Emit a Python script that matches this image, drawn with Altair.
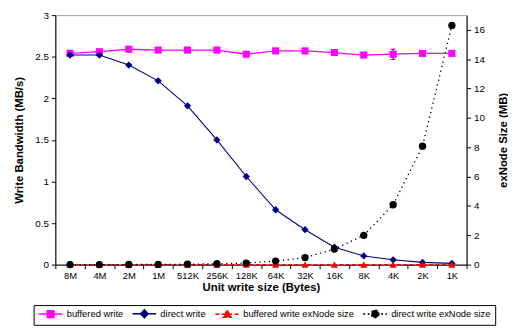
import altair as alt
import pandas as pd

categories = ["8M", "4M", "2M", "1M", "512K", "256K", "128K", "64K", "32K", "16K", "8K", "4K", "2K", "1K"]
buffered_write = [2.54, 2.56, 2.59, 2.58, 2.58, 2.58, 2.53, 2.57, 2.57, 2.55, 2.52, 2.53, 2.54, 2.54]
buffered_err = [0, 0, 0, 0, 0, 0, 0, 0.015, 0, 0.02, 0.03, 0.062, 0, 0]
direct_write = [2.52, 2.52, 2.40, 2.21, 1.91, 1.50, 1.06, 0.66, 0.42, 0.21, 0.105, 0.058, 0.027, 0.015]
buffered_exnode = [0.002, 0.002, 0.002, 0.002, 0.002, 0.002, 0.002, 0.002, 0.002, 0.002, 0.002, 0.002, 0.002, 0.002]
direct_exnode = [0.002, 0.004, 0.008, 0.015, 0.03, 0.06, 0.11, 0.24, 0.48, 1.06, 2.0, 4.08, 8.07, 16.3]

series_names = ["buffered write", "direct write", "buffered write exNode size", "direct write exNode size"]
series_colors = ["#FF00FF", "#000080", "#FF0000", "#000000"]

FONT = "Liberation Sans"

df = pd.DataFrame({
    "cat": categories,
    "bw": buffered_write,
    "err": buffered_err,
    "dw": direct_write,
    "bex": buffered_exnode,
    "dex": direct_exnode,
})
df["lo"] = df["bw"] - df["err"]
df["hi"] = df["bw"] + df["err"]

X = alt.X(
    "cat:N", sort=categories,
    scale=alt.Scale(type="band", paddingInner=0, paddingOuter=0),
    axis=alt.Axis(title="Unit write size (Bytes)", labelAngle=0, tickBand="extent",
                  tickSize=4, labelPadding=2, titlePadding=2, labelFontSize=9.5,
                  titleFontSize=11.5, titleFontWeight="bold"),
)

left_axis = alt.Axis(title="Write Bandwidth (MB/s)", values=[0, 0.5, 1, 1.5, 2, 2.5, 3], format="~g",
                     tickSize=4, labelPadding=3, titlePadding=10, labelFontSize=10,
                     titleFontSize=11.5, titleFontWeight="bold")
right_axis = alt.Axis(title="exNode Size (MB)", orient="right", values=[0, 2, 4, 6, 8, 10, 12, 14, 16],
                      format="~g", tickSize=4, labelPadding=3, titlePadding=24, labelFontSize=10,
                      titleFontSize=11.5, titleFontWeight="bold", titleAngle=270, titleBaseline="bottom")

lscale = alt.Scale(domain=[0, 3])
rscale = alt.Scale(domain=[0, 17])


def ly(field):
    return alt.Y(field + ":Q", scale=lscale, axis=left_axis, title="Write Bandwidth (MB/s)")


def ry(field):
    return alt.Y(field + ":Q", scale=rscale, axis=right_axis, title="exNode Size (MB)")


base = alt.Chart(df)

b_line = base.mark_line(color=series_colors[0], strokeWidth=1.3).encode(x=X, y=ly("bw"))
b_err = base.transform_filter("datum.err > 0").mark_rule(color="black", strokeWidth=1).encode(
    x=X, y=ly("lo"), y2="hi:Q")
b_cap_lo = base.transform_filter("datum.err > 0").mark_tick(color="black", size=5, thickness=1,
                                                            orient="horizontal").encode(x=X, y=ly("lo"))
b_cap_hi = base.transform_filter("datum.err > 0").mark_tick(color="black", size=5, thickness=1,
                                                            orient="horizontal").encode(x=X, y=ly("hi"))
b_pts = base.mark_point(shape="square", filled=True, size=52, color=series_colors[0], opacity=1).encode(
    x=X, y=ly("bw"))
d_line = base.mark_line(color=series_colors[1], strokeWidth=1.1).encode(x=X, y=ly("dw"))
d_pts = base.mark_point(shape="diamond", filled=True, size=55, color=series_colors[1], opacity=1).encode(
    x=X, y=ly("dw"))

# legend-only layer (no marks drawn; legend entries come from explicit scale domains)
path_line = "M-1,0H5.86"
legend_shapes = [
    path_line + "M1.43,-1H3.43V1H1.43Z",
    path_line + "M2.43,-1.15L3.5,0L2.43,1.15L1.36,0Z",
    path_line + "M2.43,-1.2L3.6,0.9H1.26Z",
    path_line + "M3.53,0A1.1,1.1,0,1,1,1.33,0A1.1,1.1,0,1,1,3.53,0Z",
]
legend_dash = [[1, 0], [1, 0], [4, 2.5], [2, 2.5]]
leg_df = pd.DataFrame({"series": series_names})
leg = alt.Chart(leg_df).transform_filter("false").mark_point(filled=True, opacity=1, strokeWidth=1.5).encode(
    fill=alt.Fill("series:N", scale=alt.Scale(domain=series_names, range=series_colors), title=None),
    stroke=alt.Stroke("series:N", scale=alt.Scale(domain=series_names, range=series_colors), title=None),
    shape=alt.Shape("series:N", scale=alt.Scale(domain=series_names, range=legend_shapes), title=None),
    strokeDash=alt.StrokeDash("series:N", scale=alt.Scale(domain=series_names, range=legend_dash), title=None),
)

left = alt.layer(b_line, b_err, b_cap_lo, b_cap_hi, b_pts, d_line, d_pts, leg)

be_line = base.mark_line(color=series_colors[2], strokeWidth=1.5, strokeDash=[4, 2.5]).encode(x=X, y=ry("bex"))
be_pts = base.mark_point(shape="triangle-up", filled=True, size=55, color=series_colors[2], opacity=1).encode(
    x=X, y=ry("bex"))
de_line = base.mark_line(color=series_colors[3], strokeWidth=1.3, strokeDash=[1.3, 3.5]).encode(x=X, y=ry("dex"))
de_pts = base.mark_point(shape="circle", filled=True, size=55, color=series_colors[3], opacity=1).encode(
    x=X, y=ry("dex"))

right = alt.layer(be_line, be_pts, de_line, de_pts)

chart = alt.layer(left, right).resolve_scale(y="independent").properties(
    width=417, height=253,
    autosize=alt.AutoSizeParams(type="none"),
    padding={"left": 48, "top": 5, "right": 42, "bottom": 62},
    background="white",
).configure_view(
    stroke="#a0a0a0", strokeWidth=1
).configure_axis(
    labelFont=FONT, titleFont=FONT, domainColor="black", tickColor="black",
    labelColor="black", titleColor="black", grid=False, domainWidth=1, tickWidth=1,
).configure_legend(
    orient="none", legendX=-22, legendY=294, direction="horizontal", columns=4,
    strokeColor="black", strokeWidth=1, fillColor="white", padding=4, cornerRadius=0,
    symbolSize=49, symbolStrokeWidth=1.5, labelOffset=20, columnPadding=6,
    labelFont=FONT, labelFontSize=9.5, labelColor="black",
)

chart.save("out.html", embed_options={"renderer": "svg", "actions": False})
